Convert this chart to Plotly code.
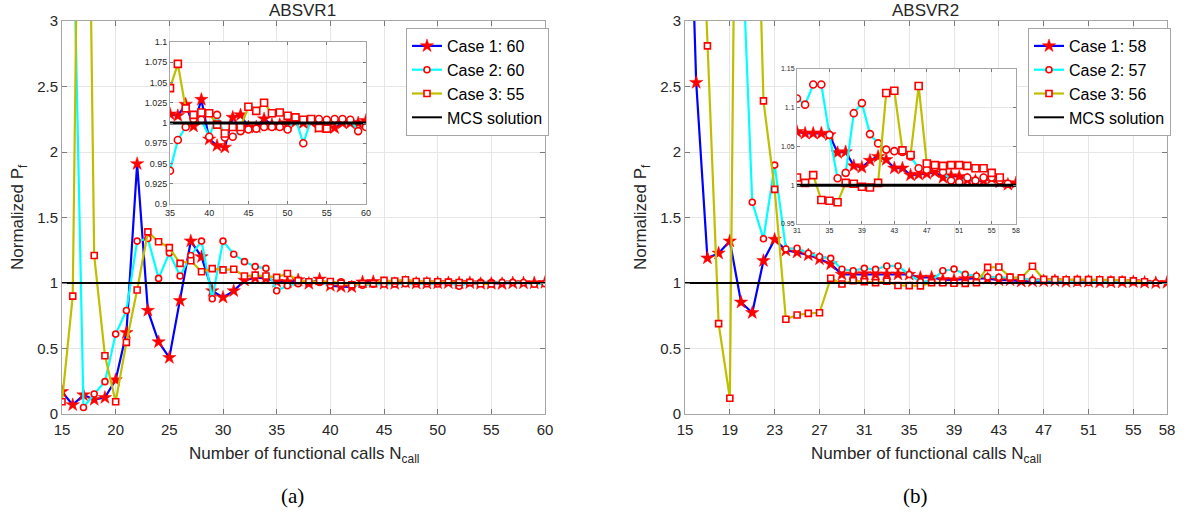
import plotly.graph_objects as go

# ---------------- data ----------------
# Left panel: ABSVR1
n1_case1 = list(range(15, 61))
p1_case1 = [0.17, 0.07, 0.145, 0.11, 0.125, 0.26, 0.62, 1.91, 0.79, 0.55,
            0.43, 0.865, 1.32, 1.20, 0.94, 0.89, 0.94, 1.02, 1.04, 1.035,
            1.011, 1.009, 1.023, 0.996, 1.029, 0.980, 0.972, 0.970, 1.007, 1.010,
            0.995, 0.995, 1.005, 0.998, 0.998, 1.000, 1.001, 1.000, 1.001, 0.995,
            0.996, 0.994, 1.000, 1.000, 1.000, 1.003]
n1_case2 = list(range(16, 61))
p1_case2 = [4.0, 0.05, 0.153, 0.247, 0.61, 0.79, 1.32, 1.34, 1.035,
            1.23, 1.053, 1.21, 1.32, 0.88, 1.32, 1.22, 1.163, 1.125, 1.112,
            0.941, 0.979, 0.995, 1.005, 1.004, 0.983, 1.010, 0.982, 0.983, 0.990,
            0.992, 0.993, 0.995, 0.995, 0.995, 0.992, 1.006, 0.975, 1.004, 1.005,
            1.004, 1.005, 1.005, 1.004, 0.990, 0.995]
n1_case3 = list(range(15, 56))
p1_case3 = [0.094, 0.90, 7.5, 1.21, 0.445, 0.094, 0.547, 0.947, 1.39, 1.315,
            1.27, 1.15, 1.17, 1.086, 1.11, 1.10, 1.105, 1.053, 1.06, 1.053,
            1.043, 1.073, 1.018, 1.010, 1.013, 1.012, 0.998, 0.987, 0.995, 0.995,
            1.020, 1.015, 1.025, 1.012, 1.013, 1.009, 1.007, 1.004, 1.005, 0.994,
            0.993]

# Right panel: ABSVR2
n2_case1 = list(range(15, 59))
p2_case1 = [5.3, 2.53, 1.19, 1.227, 1.32, 0.853, 0.773, 1.17, 1.333, 1.25,
            1.234, 1.214, 1.183, 1.145, 1.066, 1.066, 1.069, 1.067, 1.067, 1.067,
            1.065, 1.042, 1.043, 1.025, 1.023, 1.032, 1.037, 1.033, 1.022, 1.022,
            1.013, 1.014, 1.015, 1.017, 1.010, 1.012, 1.011, 1.007, 1.006, 1.006,
            1.009, 1.004, 1.001, 1.003]
n2_case2 = list(range(20, 58))
p2_case2 = [3.8, 1.616, 1.338, 1.90, 1.26, 1.265, 1.227, 1.20, 1.188, 1.105,
            1.094, 1.112, 1.104, 1.130, 1.130, 1.065, 1.009, 1.016, 1.093, 1.106,
            1.066, 1.054, 1.046, 1.044, 1.043, 1.037, 1.022, 1.020, 1.023, 1.017,
            1.006, 1.004, 1.010, 1.006, 1.010, 1.010, 1.006, 1.002]
n2_case3 = list(range(16, 57))
p2_case3 = [5.0, 2.81, 0.69, 0.12, 8.8, 5.5, 2.39, 1.715, 0.723, 0.756,
            0.768, 0.773, 1.036, 0.992, 1.018, 1.010, 1.003, 1.013, 0.981, 0.980,
            0.978, 1.003, 1.002, 0.998, 0.997, 1.003, 1.119, 1.122, 1.045, 1.039,
            1.128, 1.028, 1.026, 1.025, 1.026, 1.026, 1.025, 1.022, 1.022, 1.016,
            1.010]

mcs_value = 1.0
legend1_names = ["Case 1: 60", "Case 2: 60", "Case 3: 55", "MCS solution"]
legend2_names = ["Case 1: 58", "Case 2: 57", "Case 3: 56", "MCS solution"]

x1_ticks = [15, 20, 25, 30, 35, 40, 45, 50, 55, 60]
x2_ticks = [15, 19, 23, 27, 31, 35, 39, 43, 47, 51, 55, 58]
y_ticks = [0, 0.5, 1, 1.5, 2, 2.5, 3]
y_ticklabels = ["0", "0.5", "1", "1.5", "2", "2.5", "3"]
in1_xticks = [35, 40, 45, 50, 55, 60]
in1_yticks = [0.9, 0.925, 0.95, 0.975, 1.0, 1.025, 1.05, 1.075, 1.1]
in1_ylabels = ["0.9", "0.925", "0.95", "0.975", "1", "1.025", "1.05", "1.075", "1.1"]
in2_xticks = [31, 35, 39, 43, 47, 51, 55, 58]
in2_yticks = [0.95, 1.0, 1.05, 1.1, 1.15]
in2_ylabels = ["0.95", "1", "1.05", "1.1", "1.15"]

# ---------------- styling ----------------
W, H = 1189, 513
BLUE = "#0000FF"
CYAN = "#00FFFF"
OLIVE = "#BFBF00"
RED = "#FF0000"
TXT = "#262626"
FONT = "Liberation Sans, Arial, sans-serif"

def px(xp):
    return xp / W

def py(yp):
    return 1 - yp / H

fig = go.Figure()

def add_panel(xa, ya, series, legend, inset, xmin, xmax, names):
    s_star = 10
    s_mk = 7 if inset else 6
    styles = [
        (BLUE, dict(symbol="star", size=s_star, color=RED, line=dict(width=0.5, color=RED))),
        (CYAN, dict(symbol="circle", size=s_mk, color="white", line=dict(width=1.6, color=RED))),
        (OLIVE, dict(symbol="square", size=s_mk, color="white", line=dict(width=1.6, color=RED))),
    ]
    for (xs, ys), (lc, mk), name in zip(series, styles, names):
        if inset:
            pts = [(a, b) for a, b in zip(xs, ys) if a >= xmin]
            xs = [p[0] for p in pts]
            ys = [p[1] for p in pts]
        fig.add_trace(go.Scatter(
            x=xs, y=ys, mode="lines+markers", name=name,
            line=dict(color=lc, width=2.2), marker=mk,
            xaxis=xa, yaxis=ya, showlegend=not inset, legend=legend,
        ))
    fig.add_trace(go.Scatter(
        x=[xmin, xmax], y=[mcs_value, mcs_value], mode="lines", name=names[3],
        line=dict(color="black", width=3 if inset else 2),
        xaxis=xa, yaxis=ya, showlegend=not inset, legend=legend,
    ))

left_series = [(n1_case1, p1_case1), (n1_case2, p1_case2), (n1_case3, p1_case3)]
right_series = [(n2_case1, p2_case1), (n2_case2, p2_case2), (n2_case3, p2_case3)]

add_panel("x", "y", left_series, "legend", False, 15, 60, legend1_names)
add_panel("x2", "y2", left_series, "legend", True, 35, 60, legend1_names)
add_panel("x3", "y3", right_series, "legend2", False, 15, 58, legend2_names)
add_panel("x4", "y4", right_series, "legend2", True, 31, 58, legend2_names)

def axis(domain, rng, tickvals, ticktext=None, size=15, ticklen=5, anchor=None, standoff=None):
    d = dict(domain=domain, range=rng, tickvals=tickvals, showline=True,
             linecolor="#a6a6a6", linewidth=1, mirror="ticks", ticks="inside",
             ticklen=ticklen, tickcolor="#7a7a7a", tickwidth=1,
             showgrid=True, gridcolor="#e6e6e6", gridwidth=1, zeroline=False,
             tickfont=dict(family=FONT, size=size, color=TXT), anchor=anchor,
             fixedrange=True, automargin=False)
    if ticktext is not None:
        d["ticktext"] = ticktext
    if standoff is not None:
        d["ticklabelstandoff"] = standoff
    return d

layout = dict(
    width=W, height=H, margin=dict(l=0, r=0, t=0, b=0, autoexpand=False),
    paper_bgcolor="white", plot_bgcolor="white", showlegend=True,
    font=dict(family=FONT, color=TXT),
    xaxis=axis([px(62), px(545)], [15, 60], x1_ticks, anchor="y", standoff=2),
    yaxis=axis([py(414), py(21)], [0, 3], y_ticks, y_ticklabels, anchor="x"),
    xaxis2=axis([px(170), px(366)], [35, 60], in1_xticks, size=9, ticklen=3, anchor="y2"),
    yaxis2=axis([py(204), py(42)], [0.9, 1.1], in1_yticks, in1_ylabels, size=9, ticklen=3, anchor="x2"),
    xaxis3=axis([px(685), px(1167)], [15, 58], x2_ticks, anchor="y3", standoff=2),
    yaxis3=axis([py(414), py(21)], [0, 3], y_ticks, y_ticklabels, anchor="x3"),
    xaxis4=axis([px(797), px(1016)], [31, 58], in2_xticks, size=7, ticklen=3, anchor="y4"),
    yaxis4=axis([py(224), py(69)], [0.95, 1.15], in2_yticks, in2_ylabels, size=7, ticklen=3, anchor="x4"),
    legend=dict(x=px(406), y=py(28), xanchor="left", yanchor="top",
                bgcolor="white", bordercolor="#a6a6a6", borderwidth=1,
                font=dict(family=FONT, size=16, color="black"), itemwidth=30,
                tracegroupgap=0),
    legend2=dict(x=px(1028), y=py(28), xanchor="left", yanchor="top",
                 bgcolor="white", bordercolor="#a6a6a6", borderwidth=1,
                 font=dict(family=FONT, size=16, color="black"), itemwidth=30,
                 tracegroupgap=0),
)
fig.update_layout(**layout)

ann = []
def text(xp, yp, s, size=17, angle=0, family=FONT, color=TXT):
    ann.append(dict(x=px(xp), y=py(yp), xref="paper", yref="paper", text=s,
                    showarrow=False, xanchor="center", yanchor="middle",
                    textangle=angle, font=dict(family=family, size=size, color=color)))

text(302, 10, "ABSVR1")
text(926, 10, "ABSVR2")
text(304, 455, "Number of functional calls N<sub>call</sub>")
text(926, 455, "Number of functional calls N<sub>call</sub>")
text(19, 217, "Normalized P<sub>f</sub>", angle=-90)
text(642, 217, "Normalized P<sub>f</sub>", angle=-90)
text(292, 496, "(a)", size=21, family="Liberation Serif, Times New Roman, serif", color="black")
text(915, 496, "(b)", size=21, family="Liberation Serif, Times New Roman, serif", color="black")
fig.update_layout(annotations=ann)

fig.write_html("out.html", config={"displayModeBar": False},
               post_script="document.body.style.margin='0';document.body.style.overflow='hidden';")
